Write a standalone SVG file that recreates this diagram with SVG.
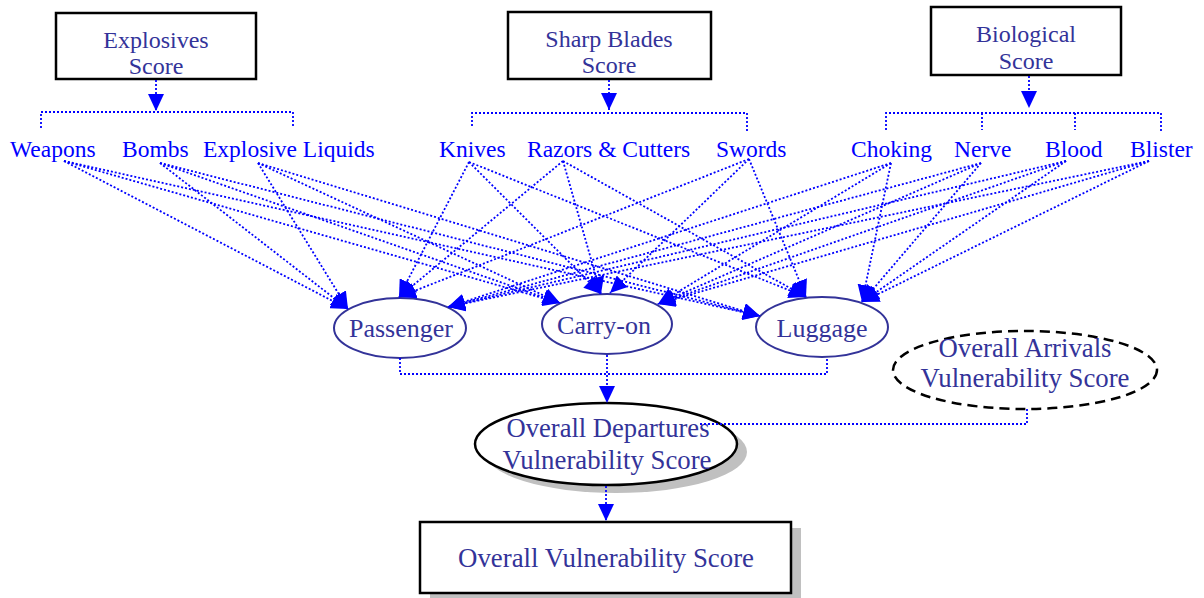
<svg xmlns="http://www.w3.org/2000/svg" width="1204" height="598" viewBox="0 0 1204 598">
<style>
.box{fill:#fff;stroke:#000;stroke-width:2.5}
.bt{font-family:"Liberation Serif","Times New Roman",serif;font-size:24px;fill:#333399;text-anchor:middle}
.it{font-family:"Liberation Serif","Times New Roman",serif;font-size:23.5px;fill:#0000ff}
.el{fill:#fff;stroke:#333399;stroke-width:2}
.et{font-family:"Liberation Serif","Times New Roman",serif;font-size:26px;fill:#333399;text-anchor:middle}
.bigt{font-family:"Liberation Serif","Times New Roman",serif;font-size:28px;fill:#333399;text-anchor:middle}
.dl{fill:none;stroke:#0000ff;stroke-width:1.8;stroke-dasharray:2 2}
.da{fill:none;stroke:#0000ff;stroke-width:1.8;stroke-dasharray:2 2;marker-end:url(#ah)}
.sh{fill:#c0c0c0}
</style>
<defs>
<marker id="ah" markerUnits="userSpaceOnUse" markerWidth="18" markerHeight="16" refX="17" refY="8" orient="auto">
<path d="M0,0 L17,8 L0,16 z" fill="#0000ff"/>
</marker>
</defs>

<g id="explosives-score">
<rect class="box" x="56" y="13" width="200" height="66"/>
<text class="bt" x="156" y="48">Explosives</text>
<text class="bt" x="156" y="74">Score</text>
</g>
<g id="sharp-blades-score">
<rect class="box" x="508" y="12" width="203" height="67"/>
<text class="bt" x="609" y="47">Sharp Blades</text>
<text class="bt" x="609" y="73">Score</text>
</g>
<g id="biological-score">
<rect class="box" x="931" y="7" width="190" height="68"/>
<text class="bt" x="1026" y="42">Biological</text>
<text class="bt" x="1026" y="69">Score</text>
</g>

<g id="weapons"><text class="it" x="10" y="157">Weapons</text></g>
<g id="bombs"><text class="it" x="122" y="157">Bombs</text></g>
<g id="explosive-liquids"><text class="it" x="203" y="157">Explosive Liquids</text></g>
<g id="knives"><text class="it" x="439" y="157">Knives</text></g>
<g id="razors-cutters"><text class="it" x="527" y="157">Razors &amp; Cutters</text></g>
<g id="swords"><text class="it" x="716" y="157">Swords</text></g>
<g id="choking"><text class="it" x="851" y="157">Choking</text></g>
<g id="nerve"><text class="it" x="954" y="157">Nerve</text></g>
<g id="blood"><text class="it" x="1045" y="157">Blood</text></g>
<g id="blister"><text class="it" x="1130" y="157">Blister</text></g>

<g id="passenger">
<ellipse class="el" cx="400" cy="328" rx="66" ry="30"/>
<text class="et" x="401" y="337">Passenger</text>
</g>
<g id="carry-on">
<ellipse class="el" cx="607" cy="324" rx="65" ry="30"/>
<text class="et" x="604" y="334">Carry-on</text>
</g>
<g id="luggage">
<ellipse class="el" cx="822" cy="327" rx="66" ry="30"/>
<text class="et" x="822" y="337">Luggage</text>
</g>

<g id="arrivals">
<ellipse cx="1025" cy="370" rx="132" ry="39" fill="#fff" stroke="#000" stroke-width="2.5" stroke-dasharray="10 6"/>
<text class="bigt" x="1025" y="357" textLength="173" lengthAdjust="spacingAndGlyphs">Overall Arrivals</text>
<text class="bigt" x="1025" y="387" textLength="209" lengthAdjust="spacingAndGlyphs">Vulnerability Score</text>
</g>

<g id="departures">
<ellipse class="sh" cx="616" cy="452" rx="131" ry="41"/>
<ellipse cx="606" cy="444" rx="131" ry="41" fill="#fff" stroke="#000" stroke-width="2.5"/>
<text class="bigt" x="608" y="437" textLength="203" lengthAdjust="spacingAndGlyphs">Overall Departures</text>
<text class="bigt" x="607" y="469" textLength="209" lengthAdjust="spacingAndGlyphs">Vulnerability Score</text>
</g>

<g id="overall">
<rect class="sh" x="430" y="528" width="371" height="71"/>
<rect class="box" x="420" y="522" width="371" height="71"/>
<text class="bigt" x="606" y="567" textLength="296" lengthAdjust="spacingAndGlyphs">Overall Vulnerability Score</text>
</g>

<g id="connectors">
<line class="da" x1="156" y1="80" x2="156" y2="111"/>
<polyline class="dl" points="41,128 41,112 293,112 293,128"/>
<line class="da" x1="609" y1="80" x2="609" y2="110"/>
<polyline class="dl" points="472,126 472,113 747,113 747,133"/>
<line class="da" x1="1029" y1="76" x2="1029" y2="108"/>
<polyline class="dl" points="886,130 886,113 1161,113 1161,133"/>
<line class="dl" x1="982" y1="113" x2="982" y2="130"/>
<line class="dl" x1="1075" y1="113" x2="1075" y2="130"/>

<line class="da" x1="64" y1="161" x2="348" y2="309"/>
<line class="da" x1="64" y1="161" x2="560" y2="303"/>
<line class="da" x1="64" y1="161" x2="760" y2="316"/>
<line class="da" x1="160" y1="163" x2="348" y2="309"/>
<line class="da" x1="160" y1="163" x2="560" y2="303"/>
<line class="da" x1="160" y1="163" x2="760" y2="316"/>
<line class="da" x1="258" y1="163" x2="348" y2="309"/>
<line class="da" x1="258" y1="163" x2="560" y2="303"/>
<line class="da" x1="258" y1="163" x2="760" y2="316"/>

<line class="da" x1="469" y1="162" x2="399" y2="297"/>
<line class="da" x1="469" y1="162" x2="601" y2="294"/>
<line class="da" x1="469" y1="162" x2="806" y2="297"/>
<line class="da" x1="563" y1="161" x2="399" y2="297"/>
<line class="da" x1="563" y1="161" x2="601" y2="294"/>
<line class="da" x1="563" y1="161" x2="806" y2="297"/>
<line class="da" x1="749" y1="159" x2="399" y2="297"/>
<line class="da" x1="749" y1="159" x2="610" y2="293"/>
<line class="da" x1="749" y1="159" x2="806" y2="297"/>

<line class="da" x1="891" y1="163" x2="448" y2="307"/>
<line class="da" x1="891" y1="163" x2="658" y2="304"/>
<line class="da" x1="891" y1="163" x2="862" y2="302"/>
<line class="da" x1="981" y1="163" x2="448" y2="307"/>
<line class="da" x1="981" y1="163" x2="658" y2="304"/>
<line class="da" x1="981" y1="163" x2="862" y2="302"/>
<line class="da" x1="1066" y1="161" x2="448" y2="307"/>
<line class="da" x1="1066" y1="161" x2="658" y2="304"/>
<line class="da" x1="1066" y1="161" x2="862" y2="302"/>
<line class="da" x1="1149" y1="161" x2="448" y2="307"/>
<line class="da" x1="1149" y1="161" x2="658" y2="304"/>
<line class="da" x1="1149" y1="161" x2="862" y2="302"/>

<polyline class="dl" points="400,358 400,374 827,374 827,357"/>
<line class="da" x1="607" y1="355" x2="607" y2="403"/>
<polyline class="dl" points="700,424 1027,424 1027,409"/>
<line class="da" x1="606" y1="486" x2="606" y2="521"/>
</g>
</svg>
